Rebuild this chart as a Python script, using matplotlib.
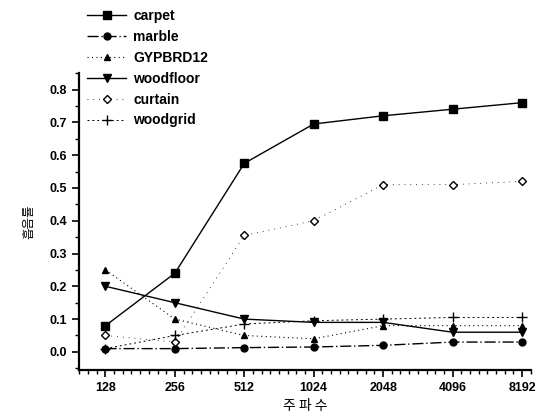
import numpy as np
import matplotlib.pyplot as plt
from matplotlib.ticker import AutoMinorLocator, MultipleLocator

plt.rcParams['font.family'] = ['Liberation Sans', 'Noto Sans CJK KR', 'DejaVu Sans']

freqs = ["128", "256", "512", "1024", "2048", "4096", "8192"]
carpet = [0.08, 0.24, 0.575, 0.695, 0.72, 0.74, 0.76]
marble = [0.01, 0.01, 0.013, 0.015, 0.02, 0.03, 0.03]
gypbrd12 = [0.25, 0.10, 0.05, 0.04, 0.08, 0.08, 0.08]
woodfloor = [0.20, 0.15, 0.10, 0.09, 0.09, 0.06, 0.06]
curtain = [0.05, 0.03, 0.355, 0.40, 0.51, 0.51, 0.52]
woodgrid = [0.01, 0.05, 0.085, 0.095, 0.10, 0.105, 0.105]

x = np.arange(len(freqs))

fig = plt.figure(figsize=(5.38, 4.18), dpi=100)
ax = fig.add_axes([0.147, 0.115, 0.84, 0.71])

ax.plot(x, carpet, color="black", lw=1.0, ls="-", marker="s", ms=6, label="carpet")
ax.plot(x, marble, color="black", lw=1.0, ls=(0, (8, 2, 1, 2)), marker="o", ms=5, label="marble")
ax.plot(x, gypbrd12, color="black", lw=0.8, ls=(0, (1, 3)), marker="^", ms=5, label="GYPBRD12")
ax.plot(x, woodfloor, color="black", lw=1.0, ls="-", marker="v", ms=6, label="woodfloor")
ax.plot(x, curtain, color="black", lw=0.6, ls=(0, (1, 6)), marker="D", ms=4,
        mfc="white", label="curtain")
ax.plot(x, woodgrid, color="black", lw=0.7, ls=(0, (2, 3)), marker="+", ms=7, label="woodgrid")

ax.set_xlim(-0.38, 6.13)
ax.set_ylim(-0.055, 0.85)
ax.set_xticks(x)
ax.set_xticklabels(freqs)
ax.xaxis.set_minor_locator(AutoMinorLocator(8))
ax.yaxis.set_major_locator(MultipleLocator(0.1))
ax.yaxis.set_minor_locator(MultipleLocator(0.05))
ax.yaxis.set_major_formatter(plt.FuncFormatter(lambda v, p: f"{v:.1f}"))

for side in ["top", "right"]:
    ax.spines[side].set_visible(False)
for side in ["left", "bottom"]:
    ax.spines[side].set_linewidth(1.6)
ax.tick_params(which="major", direction="out", length=5, width=1.2, labelsize=9)
ax.tick_params(which="minor", direction="out", length=3, width=1.0)
for lab in ax.get_xticklabels() + ax.get_yticklabels():
    lab.set_fontweight("bold")

ax.set_xlabel("주 파 수", fontsize=10, family=["Noto Sans CJK KR", "DejaVu Sans"], labelpad=4)
ax.set_ylabel("흡음률", fontsize=9, family=["Noto Sans CJK KR", "DejaVu Sans"], labelpad=10)

leg = ax.legend(loc="upper left", bbox_to_anchor=(0.0, 1.245), frameon=False,
                fontsize=10, handlelength=2.8, labelspacing=0.5, handletextpad=0.5,
                borderaxespad=0.2)
for t in leg.get_texts():
    t.set_fontweight("bold")

fig.savefig("out.png", dpi=100)
